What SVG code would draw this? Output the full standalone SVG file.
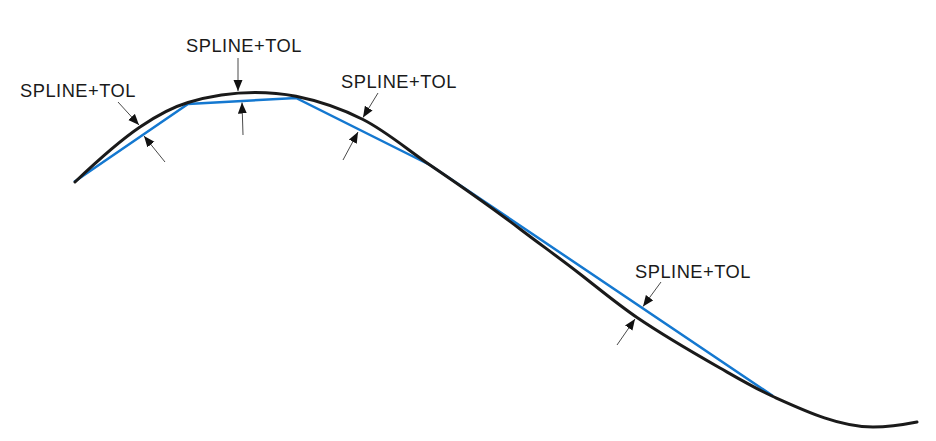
<svg xmlns="http://www.w3.org/2000/svg" width="936" height="441" viewBox="0 0 936 441">
<defs>
<style>
.lbl{font-family:"Liberation Sans",Arial,sans-serif;font-size:18.3px;fill:#1a1a1a;letter-spacing:0.5px}
.spline{fill:none;stroke:#1a1a1a;stroke-width:3;stroke-linejoin:round;stroke-linecap:round}
.poly{fill:none;stroke:#1478d0;stroke-width:2.5;stroke-linejoin:miter}
.ldr{fill:none;stroke:#4a4a4a;stroke-width:1;marker-end:url(#ah)}
</style>
<marker id="ah" markerUnits="userSpaceOnUse" markerWidth="12" markerHeight="10" refX="11" refY="4.5" orient="auto">
<path d="M0,0 L11,4.5 L0,9 z" fill="#111"/>
</marker>
</defs>
<rect width="936" height="441" fill="#fff"/>
<g id="curves">
<path id="polyline" class="poly" d="M74,182 L188,104 L296,98 L430,165 L773,396"/>
<path id="spline" class="spline" d="M75,182 C96.7,161.4 118.3,141.7 140,127 C156,116.1 172,107.3 188,102.5 C210.3,95.8 232.7,92.5 255,92.5 C268.7,92.5 282.3,93.6 296,96.3 C318.3,100.8 340.7,108.3 363,119.5 C385.3,130.7 407.7,149.8 430,165 C460,185.4 490,206.2 520,229 C540,244.2 560,258.4 580,274 C599,288.8 618,304.6 637,317.5 C664.7,336.3 692.3,352.2 720,368 C737.7,378.1 755.3,388.5 773,396.5 C806.3,411.5 839.7,427 873,427 C887.7,427 902.3,424.9 917,422"/>
</g>
<g id="connectors">
<line class="ldr" x1="118" y1="102" x2="139" y2="125"/>
<line class="ldr" x1="165" y1="162" x2="144" y2="136"/>
<line class="ldr" x1="238" y1="58" x2="238" y2="91"/>
<line class="ldr" x1="243" y1="135" x2="242" y2="102.5"/>
<line class="ldr" x1="378" y1="93" x2="363" y2="117.5"/>
<line class="ldr" x1="343" y1="160" x2="358" y2="132"/>
<line class="ldr" x1="661" y1="282" x2="643" y2="306.5"/>
<line class="ldr" x1="617" y1="345" x2="635" y2="319"/>
</g>
<g id="label1"><text class="lbl" x="20" y="97">SPLINE+TOL</text></g>
<g id="label2"><text class="lbl" x="186" y="52">SPLINE+TOL</text></g>
<g id="label3"><text class="lbl" x="341" y="88">SPLINE+TOL</text></g>
<g id="label4"><text class="lbl" x="635" y="278">SPLINE+TOL</text></g>
</svg>
